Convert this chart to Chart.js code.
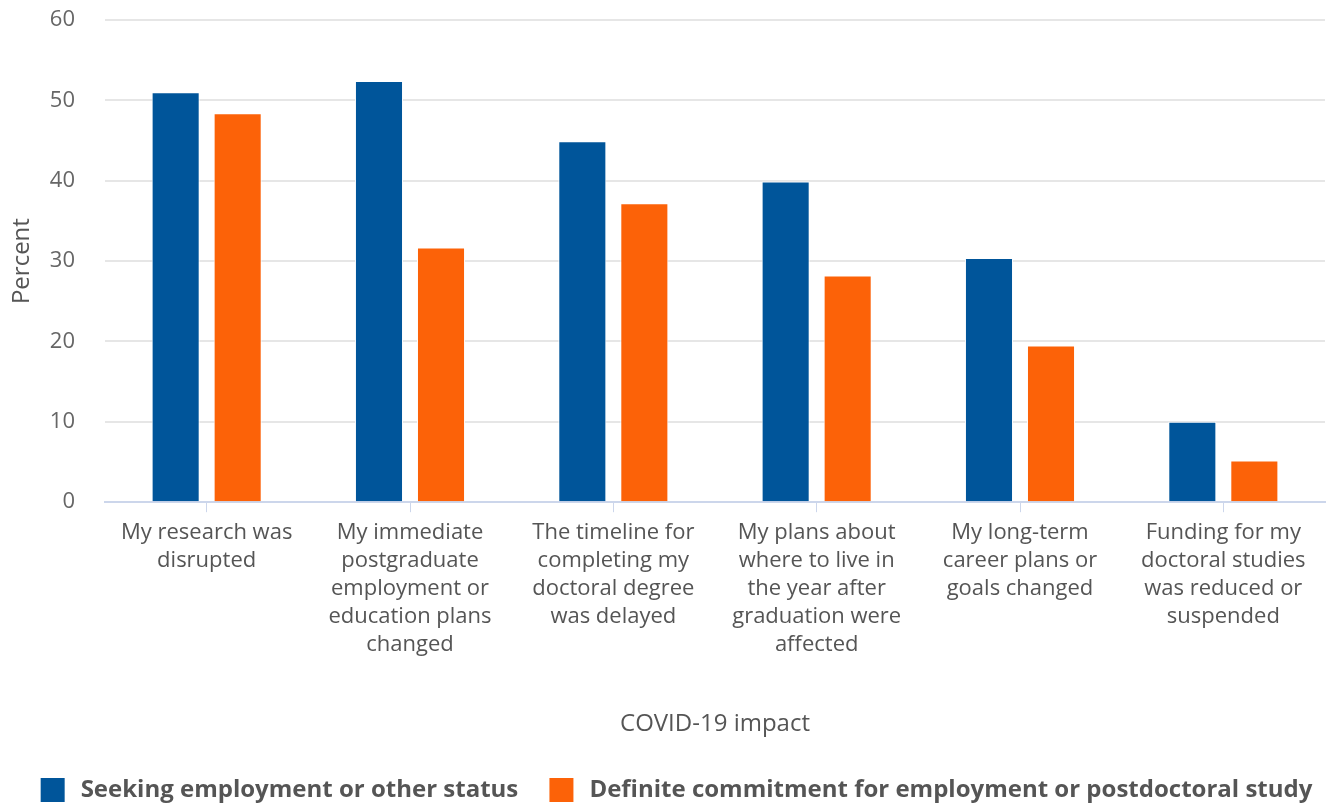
<!DOCTYPE html>
<html>
<head>
<meta charset="utf-8">
<script src="https://cdn.jsdelivr.net/npm/chart.js@4"></script>
<style>
  html, body { margin: 0; padding: 0; background: #fff; }
  #wrap { width: 1327px; height: 807px; }
</style>
</head>
<body>
<div id="wrap"><canvas id="myChart"></canvas></div>
<script>
// categorias (eje X)
const categorias = [
  ["My research was", "disrupted"],
  ["My immediate", "postgraduate", "employment or", "education plans", "changed"],
  ["The timeline for", "completing my", "doctoral degree", "was delayed"],
  ["My plans about", "where to live in", "the year after", "graduation were", "affected"],
  ["My long-term", "career plans or", "goals changed"],
  ["Funding for my", "doctoral studies", "was reduced or", "suspended"],
];

// series
const seeking = [51.0, 52.4, 44.9, 39.9, 30.4, 10.0];
const definite = [48.4, 31.7, 37.2, 28.2, 19.5, 5.2];

const yTicks = [0, 10, 20, 30, 40, 50, 60];

const colorAzul = "#00559a";
const colorNaranja = "#fc6208";

Chart.defaults.font.family = "'Open Sans', sans-serif";

const ctx = document.getElementById("myChart").getContext("2d");

let opciones_barra = {
  borderWidth: 1,
  borderColor: "#ffffff",
  categoryPercentage: 0.61,
  barPercentage: 0.775,
};

// mover la leyenda un poco a la derecha (como en el original)
const desplazarLeyenda = {
  id: "desplazarLeyenda",
  afterLayout(chart) {
    if (chart.legend) {
      chart.legend.left += 14;
      chart.legend.right += 14;
    }
  },
};

new Chart(ctx, {
  type: "bar",
  plugins: [desplazarLeyenda],
  data: {
    labels: categorias,
    datasets: [
      {
        label: "Seeking employment or other status",
        data: seeking,
        backgroundColor: colorAzul,
        ...opciones_barra,
      },
      {
        label: "Definite commitment for employment or postdoctoral study",
        data: definite,
        backgroundColor: colorNaranja,
        ...opciones_barra,
      },
    ],
  },
  options: {
    responsive: true,
    maintainAspectRatio: false,
    animation: false,
    layout: { padding: { top: 0, right: 2, left: 0, bottom: -5 } },
    plugins: {
      tooltip: { enabled: false },
      legend: {
        display: true,
        position: "bottom",
        labels: {
          boxWidth: 24,
          boxHeight: 24,
          padding: 0,
          color: "#555555",
          font: { size: 24, weight: "bold" },
          // espacios para separar caja, texto y siguiente elemento
          generateLabels: (chart) =>
            chart.data.datasets.map((ds, i) => ({
              text: "\u2009" + ds.label + (i === 0 ? "     " : ""),
              fillStyle: ds.backgroundColor,
              strokeStyle: ds.backgroundColor,
              lineWidth: 0,
              fontColor: "#555555",
              datasetIndex: i,
            })),
        },
      },
    },
    scales: {
      x: {
        grid: {
          offset: false,
          drawOnChartArea: false,
          drawTicks: true,
          tickLength: 10,
          tickColor: "#ccd6eb",
        },
        border: { color: "#ccd6eb", width: 2 },
        ticks: {
          color: "#555555",
          font: { size: 22, lineHeight: "28px" },
          padding: 7,
          maxRotation: 0,
          autoSkip: false,
        },
        title: {
          display: true,
          text: "COVID-19 impact",
          color: "#555555",
          font: { size: 24 },
          padding: { top: 44, bottom: 39 },
        },
      },
      y: {
        min: 0,
        max: 60,
        afterBuildTicks: (axis) => {
          axis.ticks = yTicks.map((v) => ({ value: v }));
        },
        afterFit: (axis) => {
          axis.width = 105;
          axis.paddingTop = 20;
          axis.paddingBottom = 0;
        },
        grid: { color: "#e6e6e6", lineWidth: 2, drawTicks: false },
        border: { display: false },
        ticks: {
          color: "#666666",
          font: { size: 22 },
          padding: 30,
        },
        title: {
          display: true,
          text: "Percent",
          color: "#555555",
          font: { size: 24 },
          padding: { top: 8, bottom: 0 },
        },
      },
    },
  },
});
</script>
</body>
</html>
